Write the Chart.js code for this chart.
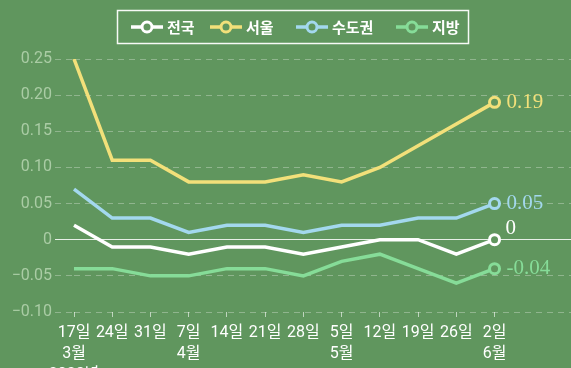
<!DOCTYPE html>
<html><head><meta charset="utf-8">
<script src="https://cdn.jsdelivr.net/npm/chart.js@4/dist/chart.umd.min.js"></script>
<style>html,body{margin:0;padding:0;background:#60965e;overflow:hidden}#wrap{width:571px;height:368px;position:relative}</style>
</head><body><div id="wrap"><canvas id="c"></canvas></div>
<script>
// ---- data ----
const days = ['17일','24일','31일','7일','14일','21일','28일','5일','12일','19일','26일','2일'];
const months = ['3월','','','4월','','','','5월','','','','6월'];
const years = ['2023년','','','','','','','','','','',''];
const national = [0.02,-0.01,-0.01,-0.02,-0.01,-0.01,-0.02,-0.01,0,0,-0.02,0];
const seoul    = [0.25,0.11,0.11,0.08,0.08,0.08,0.09,0.08,0.10,0.13,0.16,0.19];
const capital  = [0.07,0.03,0.03,0.01,0.02,0.02,0.01,0.02,0.02,0.03,0.03,0.05];
const regions  = [-0.04,-0.04,-0.05,-0.05,-0.04,-0.04,-0.05,-0.03,-0.02,-0.04,-0.06,-0.04];
const seriesNames = ['전국','서울','수도권','지방'];
const yTicks = [-0.10,-0.05,0,0.05,0.10,0.15,0.20,0.25];

// ---- style ----
const BG = '#60965e';
const colors = ['#ffffff','#f2e07a','#a3d8ee','#86dc98'];
const N = days.length;
const EXTRA = 2;
const labels = days.map((d,i)=>[d, months[i], years[i]].filter(s=>s)).concat(Array(EXTRA).fill(''));
const FONT = 'Roboto, "Noto Sans CJK KR", sans-serif';
const isZero = v => Math.abs(v) < 1e-9;
const fmtY = v => isZero(v) ? '0' : (v < 0 ? '\u2212' + Math.abs(v).toFixed(2) : v.toFixed(2));

const seriesData = [national, seoul, capital, regions];
const datasets = seriesData.map((d,i)=>({
  label: seriesNames[i], data: d, borderColor: colors[i], backgroundColor: colors[i],
  borderWidth: 3.5, tension: 0,
  pointRadius: ctx => ctx.dataIndex === N-1 ? 5 : 0, pointHoverRadius: 0,
  pointBorderWidth: 3, pointBorderColor: colors[i], pointBackgroundColor: BG
}));

const bgPlugin = { id: 'bg', beforeDraw(chart){ const c = chart.ctx; c.save(); c.fillStyle = BG; c.fillRect(0,0,chart.width,chart.height); c.restore(); } };

const endLabels = {
  id: 'endLabels',
  afterDatasetsDraw(chart){
    const c = chart.ctx; c.save();
    c.font = '21px "Liberation Serif", serif';
    c.textBaseline = 'middle'; c.textAlign = 'left';
    chart.data.datasets.forEach((ds,i)=>{
      const p = chart.getDatasetMeta(i).data[N-1];
      const v = ds.data[N-1];
      const shift = (i === 0) ? -11 : 0;
      const dx = (i === 0) ? 11 : 12;
      c.fillStyle = colors[i];
      c.fillText(String(v), p.x + dx, p.y + shift);
    });
    c.restore();
  }
};

const legendPlugin = {
  id: 'customLegend',
  afterDraw(chart){
    const c = chart.ctx; c.save();
    c.strokeStyle = 'rgba(255,255,255,0.95)'; c.lineWidth = 1.5;
    c.strokeRect(117.5, 10.5, 351, 33);
    const starts = [131, 210, 296, 396];
    const cy = 27;
    c.font = 'bold 15px "Noto Sans CJK KR", sans-serif';
    c.textBaseline = 'middle'; c.textAlign = 'left';
    chart.data.datasets.forEach((ds,i)=>{
      const x = starts[i];
      c.strokeStyle = colors[i]; c.lineWidth = 3.5;
      c.beginPath(); c.moveTo(x, cy); c.lineTo(x+32, cy); c.stroke();
      c.beginPath(); c.arc(x+16, cy, 5, 0, Math.PI*2);
      c.fillStyle = BG; c.fill(); c.lineWidth = 3; c.stroke();
      c.fillStyle = '#ffffff';
      c.fillText(ds.label, x+36, cy);
    });
    c.restore();
  }
};

new Chart(document.getElementById('c'), {
  type: 'line',
  data: { labels, datasets },
  options: {
    responsive: true, maintainAspectRatio: false, animation: false, devicePixelRatio: 1,
    layout: { autoPadding: false, padding: { top: 59, right: 0, left: 0, bottom: 0 } },
    plugins: { legend: { display: false }, tooltip: { enabled: false } },
    scales: {
      x: {
        offset: false,
        afterFit(s){ s.height = 56; s.paddingRight = 0; s.paddingLeft = 0; },
        grid: { drawOnChartArea: false, drawTicks: true, tickLength: 5,
          color: ctx => ctx.index < N ? 'rgba(255,255,255,0.6)' : 'rgba(0,0,0,0)',
          tickColor: ctx => ctx.index < N ? 'rgba(255,255,255,0.6)' : 'rgba(0,0,0,0)' },
        border: { display: false },
        ticks: { color: '#ffffff', font: { family: FONT, size: 16, lineHeight: 1.3 }, autoSkip: false, maxRotation: 0, minRotation: 0, padding: 6 }
      },
      y: {
        min: -0.10, max: 0.25,
        afterFit(s){ s.width = 74; },
        afterBuildTicks(s){ s.ticks = yTicks.map(v=>({value:v})); },
        grid: {
          color: ctx => (ctx.tick && isZero(ctx.tick.value)) ? 'rgba(255,255,255,0.85)' : 'rgba(255,255,255,0.3)',
          tickColor: ctx => (ctx.tick && isZero(ctx.tick.value)) ? 'rgba(255,255,255,0.85)' : 'rgba(255,255,255,0.3)',
          lineWidth: 1, drawTicks: true, tickLength: 19,
          tickBorderDash: ctx => (ctx.tick && isZero(ctx.tick.value)) ? [] : [6,5]
        },
        border: { display: false, dash: ctx => (ctx.tick && isZero(ctx.tick.value)) ? [] : [6,5] },
        ticks: { color: '#aacca5', font: { family: FONT, size: 16 }, padding: 3, crossAlign: 'near', callback: v => fmtY(v) }
      }
    }
  },
  plugins: [bgPlugin, endLabels, legendPlugin]
});
</script></body></html>
